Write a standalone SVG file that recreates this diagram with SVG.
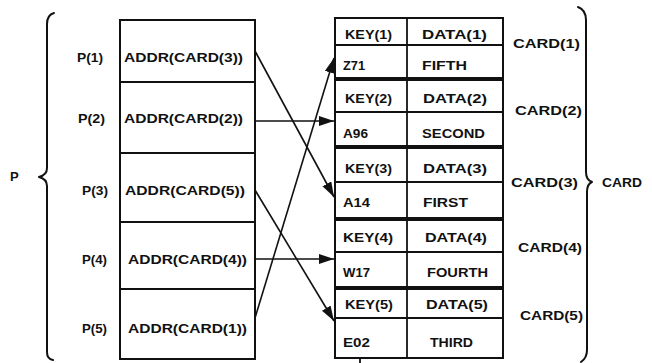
<svg xmlns="http://www.w3.org/2000/svg" width="652" height="363" viewBox="0 0 652 363">
<style>
text{font-family:"Liberation Sans",Arial,sans-serif;font-weight:bold;font-size:13px;fill:#111}
.box{fill:#fff;stroke:#111;stroke-width:2}
.thin{stroke:#111;stroke-width:1.8;fill:none}
.thick{stroke:#111;stroke-width:4;fill:none}
.brace{stroke:#111;stroke-width:2;fill:none;stroke-linecap:round;stroke-linejoin:round}
.conn{stroke:#111;stroke-width:1.6;fill:none}
</style>
<defs>
<marker id="ah" markerUnits="userSpaceOnUse" markerWidth="16" markerHeight="12" refX="15" refY="5" orient="auto">
<path d="M0,0 L15,5 L0,10 Z" fill="#111"/>
</marker>
</defs>
<rect width="652" height="363" fill="#fff"/>

<g id="brace-P">
<path class="brace" d="M54,13 Q47,15 47,24 L47,168 Q47,175 39,177 Q47,179 47,186 L47,352 Q47,359 53,360"/>
<text x="10" y="181">P</text>
</g>

<g id="P">
<g id="P1">
<rect class="box" x="120" y="20" width="135" height="62"/>
<text x="77" y="62" textLength="26" lengthAdjust="spacingAndGlyphs">P(1)</text>
<text x="124" y="62" textLength="119" lengthAdjust="spacingAndGlyphs">ADDR(CARD(3))</text>
</g>
<g id="P2">
<rect class="box" x="120" y="82" width="135" height="71"/>
<text x="78" y="123" textLength="27" lengthAdjust="spacingAndGlyphs">P(2)</text>
<text x="124" y="123" textLength="119" lengthAdjust="spacingAndGlyphs">ADDR(CARD(2))</text>
</g>
<g id="P3">
<rect class="box" x="120" y="153" width="135" height="69"/>
<text x="82" y="195" textLength="26" lengthAdjust="spacingAndGlyphs">P(3)</text>
<text x="125" y="195" textLength="120" lengthAdjust="spacingAndGlyphs">ADDR(CARD(5))</text>
</g>
<g id="P4">
<rect class="box" x="120" y="222" width="135" height="67"/>
<text x="82" y="264" textLength="25" lengthAdjust="spacingAndGlyphs">P(4)</text>
<text x="128" y="264" textLength="119" lengthAdjust="spacingAndGlyphs">ADDR(CARD(4))</text>
</g>
<g id="P5">
<rect class="box" x="120" y="289" width="135" height="70"/>
<text x="82" y="333" textLength="25" lengthAdjust="spacingAndGlyphs">P(5)</text>
<text x="128" y="333" textLength="119" lengthAdjust="spacingAndGlyphs">ADDR(CARD(1))</text>
</g>
</g>

<g id="CARD">
<rect class="box" x="335" y="18" width="168" height="340"/>
<line class="thin" x1="407" y1="18" x2="407" y2="358"/>
<line class="thin" x1="360" y1="358" x2="360" y2="363"/>
<g id="CARD1">
<line class="thin" x1="335" y1="45" x2="503" y2="45"/>
<text x="345" y="39" textLength="47" lengthAdjust="spacingAndGlyphs">KEY(1)</text>
<text x="422" y="39" textLength="65" lengthAdjust="spacingAndGlyphs">DATA(1)</text>
<text x="343" y="70" textLength="22" lengthAdjust="spacingAndGlyphs">Z71</text>
<text x="422" y="70" textLength="45" lengthAdjust="spacingAndGlyphs">FIFTH</text>
<text x="513" y="48" textLength="67" lengthAdjust="spacingAndGlyphs">CARD(1)</text>
<line class="thick" x1="335" y1="79" x2="503" y2="79"/>
</g>
<g id="CARD2">
<line class="thin" x1="335" y1="112" x2="503" y2="112"/>
<text x="345" y="103" textLength="47" lengthAdjust="spacingAndGlyphs">KEY(2)</text>
<text x="423" y="103" textLength="64" lengthAdjust="spacingAndGlyphs">DATA(2)</text>
<text x="343" y="138" textLength="25" lengthAdjust="spacingAndGlyphs">A96</text>
<text x="422" y="138" textLength="63" lengthAdjust="spacingAndGlyphs">SECOND</text>
<text x="515" y="115" textLength="67" lengthAdjust="spacingAndGlyphs">CARD(2)</text>
<line class="thick" x1="335" y1="147" x2="503" y2="147"/>
</g>
<g id="CARD3">
<line class="thin" x1="335" y1="182" x2="503" y2="182"/>
<text x="345" y="173" textLength="47" lengthAdjust="spacingAndGlyphs">KEY(3)</text>
<text x="423" y="173" textLength="64" lengthAdjust="spacingAndGlyphs">DATA(3)</text>
<text x="343" y="207" textLength="27" lengthAdjust="spacingAndGlyphs">A14</text>
<text x="423" y="207" textLength="45" lengthAdjust="spacingAndGlyphs">FIRST</text>
<text x="511" y="187" textLength="67" lengthAdjust="spacingAndGlyphs">CARD(3)</text>
<line class="thick" x1="335" y1="219" x2="503" y2="219"/>
</g>
<g id="CARD4">
<line class="thin" x1="335" y1="252" x2="503" y2="252"/>
<text x="343" y="242" textLength="50" lengthAdjust="spacingAndGlyphs">KEY(4)</text>
<text x="425" y="242" textLength="62" lengthAdjust="spacingAndGlyphs">DATA(4)</text>
<text x="343" y="277" textLength="27" lengthAdjust="spacingAndGlyphs">W17</text>
<text x="427" y="277" textLength="61" lengthAdjust="spacingAndGlyphs">FOURTH</text>
<text x="518" y="252" textLength="64" lengthAdjust="spacingAndGlyphs">CARD(4)</text>
<line class="thick" x1="335" y1="288" x2="503" y2="288"/>
</g>
<g id="CARD5">
<line class="thin" x1="335" y1="318" x2="503" y2="318"/>
<text x="345" y="309" textLength="48" lengthAdjust="spacingAndGlyphs">KEY(5)</text>
<text x="426" y="309" textLength="62" lengthAdjust="spacingAndGlyphs">DATA(5)</text>
<text x="343" y="347" textLength="27" lengthAdjust="spacingAndGlyphs">E02</text>
<text x="430" y="347" textLength="43" lengthAdjust="spacingAndGlyphs">THIRD</text>
<text x="520" y="320" textLength="63" lengthAdjust="spacingAndGlyphs">CARD(5)</text>
</g>
</g>

<g id="brace-CARD">
<path class="brace" d="M578,7 Q586,10 586,20 L586,172 Q586,180 592,182 Q587,184 587,192 L587,350 Q587,358 581,362"/>
<text x="602" y="187" textLength="40" lengthAdjust="spacingAndGlyphs">CARD</text>
</g>

<g id="connectors">
<line class="conn" x1="255" y1="51" x2="334" y2="197" marker-end="url(#ah)"/>
<line class="conn" x1="255" y1="121" x2="334" y2="121" marker-end="url(#ah)"/>
<line class="conn" x1="255" y1="190" x2="334" y2="321" marker-end="url(#ah)"/>
<line class="conn" x1="255" y1="259" x2="334" y2="259" marker-end="url(#ah)"/>
<line class="conn" x1="255" y1="318" x2="334" y2="58" marker-end="url(#ah)"/>
</g>
</svg>
